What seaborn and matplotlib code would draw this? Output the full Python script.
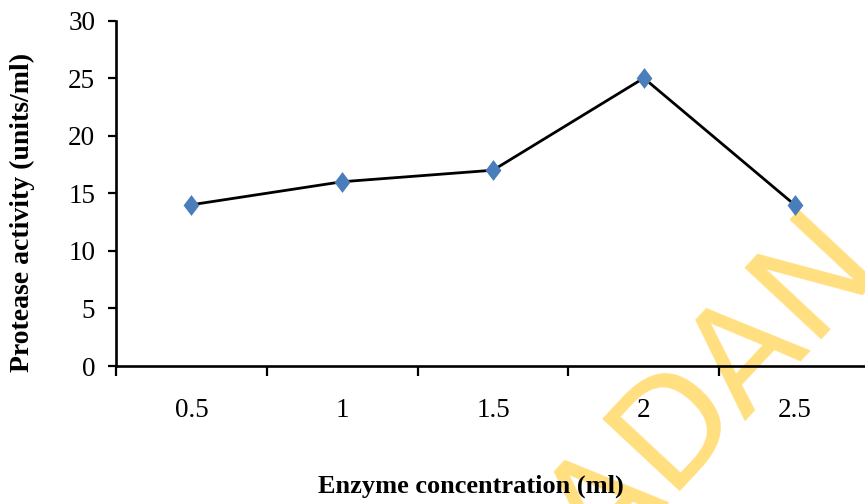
import matplotlib
matplotlib.use("Agg")
import matplotlib.pyplot as plt
from matplotlib.path import Path
from matplotlib import font_manager
import seaborn as sns
import pandas as pd
import numpy as np

# Data
concentrations = ["0.5", "1", "1.5", "2", "2.5"]
activity = [14, 16, 17, 25, 14]
y_ticks = [0, 5, 10, 15, 20, 25, 30]

sns.set_theme(style="ticks")
plt.rcParams["font.family"] = ["Liberation Serif", "DejaVu Serif"]
plt.rcParams["text.color"] = "black"
plt.rcParams["axes.labelcolor"] = "black"
plt.rcParams["xtick.color"] = "black"
plt.rcParams["ytick.color"] = "black"

names = {f.name for f in font_manager.fontManager.ttflist}
wm_family = "Liberation Sans Narrow" if "Liberation Sans Narrow" in names else "DejaVu Sans"

df = pd.DataFrame({"conc": concentrations, "activity": activity})

W, H = 865, 504
fig = plt.figure(figsize=(W / 100, H / 100), dpi=100)
ax = fig.add_axes([116 / W, 1 - 366 / H, (870 - 116) / W, (366 - 20.5) / H])
ax.patch.set_alpha(0)

diamond = Path([(0, 1), (0.76, 0), (0, -1), (-0.76, 0), (0, 1)],
               [Path.MOVETO, Path.LINETO, Path.LINETO, Path.LINETO, Path.CLOSEPOLY])

sns.lineplot(data=df, x="conc", y="activity", ax=ax, color="black",
             linewidth=2.0, sort=False, zorder=2)
sns.scatterplot(data=df, x="conc", y="activity", ax=ax, marker=diamond,
                s=15 ** 2, color="#4A7EBB", edgecolor="#4A7EBB",
                linewidth=0, zorder=3)

ax.set_xlim(-0.5, 4.5)
ax.set_ylim(0, 30)
ax.set_yticks(y_ticks)
ax.set_yticklabels([str(v) for v in y_ticks])
ax.set_xticks(range(len(concentrations)))
ax.set_xticklabels(concentrations)
ax.set_xticks(np.arange(-0.5, len(concentrations), 1.0), minor=True)

ax.tick_params(axis="x", which="major", length=0, pad=23, labelsize=19.5,
               colors="black")
ax.tick_params(axis="x", which="minor", length=7, width=1.6, direction="out",
               color="black")
ax.tick_params(axis="y", which="major", length=6, width=1.6, pad=9,
               labelsize=19.5, direction="out", colors="black")

for s in ["top", "right"]:
    ax.spines[s].set_visible(False)
for s in ["left", "bottom"]:
    ax.spines[s].set_linewidth(1.9)
    ax.spines[s].set_color("black")

ax.set_xlabel("Enzyme concentration (ml)", fontsize=19, fontweight="bold",
              va="center", color="black")
ax.xaxis.set_label_coords((471 - 116) / 754, (366 - 486) / 345.5)
ax.set_ylabel("Protease activity (units/ml)", fontsize=20, fontweight="bold",
              va="center", color="black")
ax.yaxis.set_label_coords((22 - 116) / 754, (366 - 212) / 345.5)

# Watermark
fig.text(678 / W, 1 - 420 / H, "BADAN", fontsize=104, color="#FFDF7E",
         family=wm_family, rotation=47, ha="center", va="center",
         rotation_mode="anchor", zorder=-1)

fig.savefig("out.png", dpi=100, facecolor="white")
